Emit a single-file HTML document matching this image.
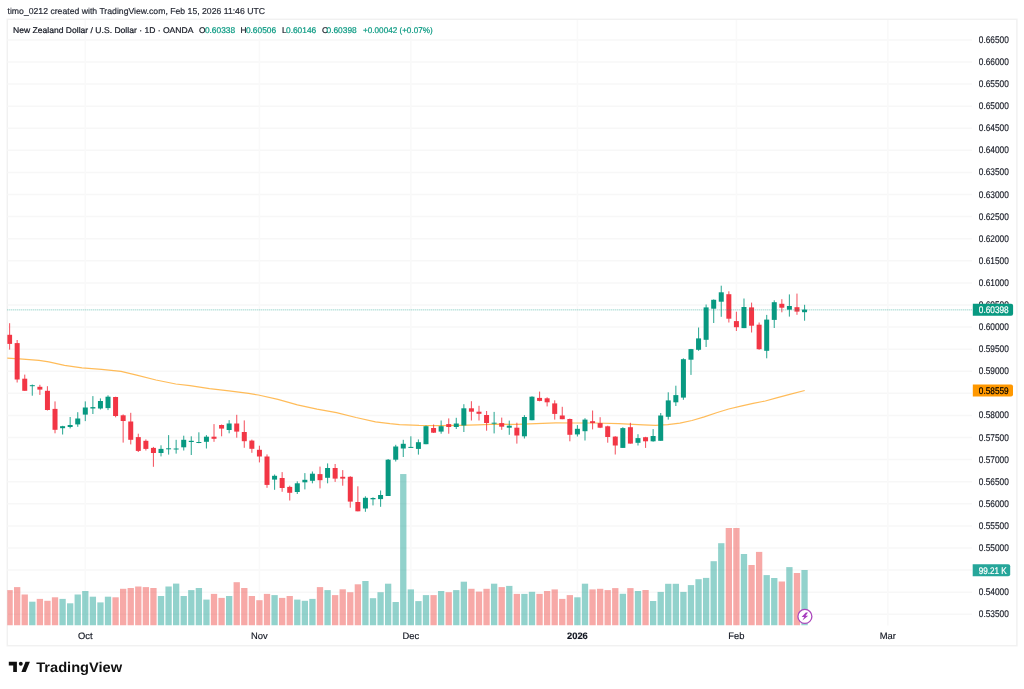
<!DOCTYPE html><html><head><meta charset="utf-8"><title>NZDUSD chart</title><style>html,body{margin:0;padding:0;background:#fff;width:1024px;height:689px;overflow:hidden}svg{display:block;position:absolute;left:0;top:0;will-change:transform;text-rendering:geometricPrecision}text{font-family:'Liberation Sans', Arial, sans-serif}</style></head><body><svg width="1024" height="689" viewBox="0 0 1024 689"><rect x="0" y="0" width="1024" height="689" fill="#fff"/><defs><clipPath id="pane"><rect x="7.3" y="20.0" width="964.7" height="605.5"/></clipPath></defs><text x="7.5" y="13.9" font-size="8.6" fill="#2a2e39" stroke="#2a2e39" stroke-width="0.2" textLength="257.5" lengthAdjust="spacingAndGlyphs">timo_0212 created with TradingView.com, Feb 15, 2026 11:46 UTC</text><rect x="7.3" y="19.3" width="1009.6" height="626.4" fill="none" stroke="#f1f1f1" stroke-width="1.5"/><g stroke="#f7f7f7" stroke-width="1.5"><line x1="7.3" y1="39.90" x2="972.0" y2="39.90"/><line x1="7.3" y1="61.99" x2="972.0" y2="61.99"/><line x1="7.3" y1="84.08" x2="972.0" y2="84.08"/><line x1="7.3" y1="106.17" x2="972.0" y2="106.17"/><line x1="7.3" y1="128.26" x2="972.0" y2="128.26"/><line x1="7.3" y1="150.35" x2="972.0" y2="150.35"/><line x1="7.3" y1="172.44" x2="972.0" y2="172.44"/><line x1="7.3" y1="194.53" x2="972.0" y2="194.53"/><line x1="7.3" y1="216.62" x2="972.0" y2="216.62"/><line x1="7.3" y1="238.71" x2="972.0" y2="238.71"/><line x1="7.3" y1="260.80" x2="972.0" y2="260.80"/><line x1="7.3" y1="282.89" x2="972.0" y2="282.89"/><line x1="7.3" y1="304.98" x2="972.0" y2="304.98"/><line x1="7.3" y1="327.07" x2="972.0" y2="327.07"/><line x1="7.3" y1="349.16" x2="972.0" y2="349.16"/><line x1="7.3" y1="371.25" x2="972.0" y2="371.25"/><line x1="7.3" y1="393.34" x2="972.0" y2="393.34"/><line x1="7.3" y1="415.43" x2="972.0" y2="415.43"/><line x1="7.3" y1="437.52" x2="972.0" y2="437.52"/><line x1="7.3" y1="459.61" x2="972.0" y2="459.61"/><line x1="7.3" y1="481.70" x2="972.0" y2="481.70"/><line x1="7.3" y1="503.79" x2="972.0" y2="503.79"/><line x1="7.3" y1="525.88" x2="972.0" y2="525.88"/><line x1="7.3" y1="547.97" x2="972.0" y2="547.97"/><line x1="7.3" y1="570.06" x2="972.0" y2="570.06"/><line x1="7.3" y1="592.15" x2="972.0" y2="592.15"/><line x1="7.3" y1="614.24" x2="972.0" y2="614.24"/><line x1="85.30" y1="20.0" x2="85.30" y2="625.5" stroke="#f9f9f9"/><line x1="259.43" y1="20.0" x2="259.43" y2="625.5" stroke="#f9f9f9"/><line x1="410.85" y1="20.0" x2="410.85" y2="625.5" stroke="#f9f9f9"/><line x1="577.41" y1="20.0" x2="577.41" y2="625.5" stroke="#f9f9f9"/><line x1="736.41" y1="20.0" x2="736.41" y2="625.5" stroke="#f9f9f9"/><line x1="887.83" y1="20.0" x2="887.83" y2="625.5" stroke="#f9f9f9"/></g><g clip-path="url(#pane)"><rect x="6.44" y="590.10" width="6.3" height="35.40" fill="rgba(239,83,80,0.5)"/><rect x="14.01" y="587.10" width="6.3" height="38.40" fill="rgba(239,83,80,0.5)"/><rect x="21.58" y="594.50" width="6.3" height="31.00" fill="rgba(239,83,80,0.5)"/><rect x="29.15" y="601.70" width="6.3" height="23.80" fill="rgba(38,166,154,0.5)"/><rect x="36.72" y="598.90" width="6.3" height="26.60" fill="rgba(239,83,80,0.5)"/><rect x="44.29" y="600.80" width="6.3" height="24.70" fill="rgba(239,83,80,0.5)"/><rect x="51.87" y="597.30" width="6.3" height="28.20" fill="rgba(239,83,80,0.5)"/><rect x="59.44" y="598.90" width="6.3" height="26.60" fill="rgba(38,166,154,0.5)"/><rect x="67.01" y="603.30" width="6.3" height="22.20" fill="rgba(38,166,154,0.5)"/><rect x="74.58" y="594.50" width="6.3" height="31.00" fill="rgba(38,166,154,0.5)"/><rect x="82.15" y="591.00" width="6.3" height="34.50" fill="rgba(38,166,154,0.5)"/><rect x="89.72" y="596.70" width="6.3" height="28.80" fill="rgba(38,166,154,0.5)"/><rect x="97.29" y="602.40" width="6.3" height="23.10" fill="rgba(38,166,154,0.5)"/><rect x="104.86" y="596.70" width="6.3" height="28.80" fill="rgba(38,166,154,0.5)"/><rect x="112.43" y="597.30" width="6.3" height="28.20" fill="rgba(239,83,80,0.5)"/><rect x="120.00" y="588.80" width="6.3" height="36.70" fill="rgba(239,83,80,0.5)"/><rect x="127.58" y="588.00" width="6.3" height="37.50" fill="rgba(239,83,80,0.5)"/><rect x="135.15" y="586.50" width="6.3" height="39.00" fill="rgba(239,83,80,0.5)"/><rect x="142.72" y="587.10" width="6.3" height="38.40" fill="rgba(239,83,80,0.5)"/><rect x="150.29" y="588.00" width="6.3" height="37.50" fill="rgba(239,83,80,0.5)"/><rect x="157.86" y="596.00" width="6.3" height="29.50" fill="rgba(38,166,154,0.5)"/><rect x="165.43" y="586.50" width="6.3" height="39.00" fill="rgba(38,166,154,0.5)"/><rect x="173.00" y="583.60" width="6.3" height="41.90" fill="rgba(38,166,154,0.5)"/><rect x="180.57" y="596.00" width="6.3" height="29.50" fill="rgba(38,166,154,0.5)"/><rect x="188.14" y="590.10" width="6.3" height="35.40" fill="rgba(38,166,154,0.5)"/><rect x="195.72" y="588.00" width="6.3" height="37.50" fill="rgba(38,166,154,0.5)"/><rect x="203.29" y="599.60" width="6.3" height="25.90" fill="rgba(38,166,154,0.5)"/><rect x="210.86" y="593.90" width="6.3" height="31.60" fill="rgba(239,83,80,0.5)"/><rect x="218.43" y="597.90" width="6.3" height="27.60" fill="rgba(239,83,80,0.5)"/><rect x="226.00" y="596.00" width="6.3" height="29.50" fill="rgba(38,166,154,0.5)"/><rect x="233.57" y="582.20" width="6.3" height="43.30" fill="rgba(239,83,80,0.5)"/><rect x="241.14" y="588.00" width="6.3" height="37.50" fill="rgba(239,83,80,0.5)"/><rect x="248.71" y="596.00" width="6.3" height="29.50" fill="rgba(239,83,80,0.5)"/><rect x="256.28" y="600.20" width="6.3" height="25.30" fill="rgba(239,83,80,0.5)"/><rect x="263.85" y="593.90" width="6.3" height="31.60" fill="rgba(239,83,80,0.5)"/><rect x="271.43" y="595.10" width="6.3" height="30.40" fill="rgba(38,166,154,0.5)"/><rect x="279.00" y="597.90" width="6.3" height="27.60" fill="rgba(239,83,80,0.5)"/><rect x="286.57" y="596.00" width="6.3" height="29.50" fill="rgba(239,83,80,0.5)"/><rect x="294.14" y="599.60" width="6.3" height="25.90" fill="rgba(38,166,154,0.5)"/><rect x="301.71" y="600.80" width="6.3" height="24.70" fill="rgba(38,166,154,0.5)"/><rect x="309.28" y="598.90" width="6.3" height="26.60" fill="rgba(38,166,154,0.5)"/><rect x="316.85" y="587.10" width="6.3" height="38.40" fill="rgba(239,83,80,0.5)"/><rect x="324.42" y="590.10" width="6.3" height="35.40" fill="rgba(38,166,154,0.5)"/><rect x="331.99" y="595.10" width="6.3" height="30.40" fill="rgba(239,83,80,0.5)"/><rect x="339.56" y="589.30" width="6.3" height="36.20" fill="rgba(239,83,80,0.5)"/><rect x="347.13" y="592.20" width="6.3" height="33.30" fill="rgba(239,83,80,0.5)"/><rect x="354.71" y="584.30" width="6.3" height="41.20" fill="rgba(239,83,80,0.5)"/><rect x="362.28" y="581.00" width="6.3" height="44.50" fill="rgba(38,166,154,0.5)"/><rect x="369.85" y="598.20" width="6.3" height="27.30" fill="rgba(38,166,154,0.5)"/><rect x="377.42" y="592.20" width="6.3" height="33.30" fill="rgba(38,166,154,0.5)"/><rect x="384.99" y="583.70" width="6.3" height="41.80" fill="rgba(38,166,154,0.5)"/><rect x="392.56" y="602.00" width="6.3" height="23.50" fill="rgba(38,166,154,0.5)"/><rect x="400.13" y="474.05" width="6.3" height="151.45" fill="rgba(38,166,154,0.5)"/><rect x="407.70" y="589.40" width="6.3" height="36.10" fill="rgba(38,166,154,0.5)"/><rect x="415.27" y="601.10" width="6.3" height="24.40" fill="rgba(38,166,154,0.5)"/><rect x="422.84" y="595.10" width="6.3" height="30.40" fill="rgba(38,166,154,0.5)"/><rect x="430.42" y="595.10" width="6.3" height="30.40" fill="rgba(239,83,80,0.5)"/><rect x="437.99" y="591.00" width="6.3" height="34.50" fill="rgba(38,166,154,0.5)"/><rect x="445.56" y="592.20" width="6.3" height="33.30" fill="rgba(239,83,80,0.5)"/><rect x="453.13" y="590.10" width="6.3" height="35.40" fill="rgba(38,166,154,0.5)"/><rect x="460.70" y="581.70" width="6.3" height="43.80" fill="rgba(38,166,154,0.5)"/><rect x="468.27" y="588.80" width="6.3" height="36.70" fill="rgba(239,83,80,0.5)"/><rect x="475.84" y="591.60" width="6.3" height="33.90" fill="rgba(239,83,80,0.5)"/><rect x="483.41" y="588.80" width="6.3" height="36.70" fill="rgba(239,83,80,0.5)"/><rect x="490.98" y="583.70" width="6.3" height="41.80" fill="rgba(38,166,154,0.5)"/><rect x="498.56" y="587.10" width="6.3" height="38.40" fill="rgba(239,83,80,0.5)"/><rect x="506.13" y="585.90" width="6.3" height="39.60" fill="rgba(38,166,154,0.5)"/><rect x="513.70" y="593.90" width="6.3" height="31.60" fill="rgba(239,83,80,0.5)"/><rect x="521.27" y="593.90" width="6.3" height="31.60" fill="rgba(38,166,154,0.5)"/><rect x="528.84" y="591.80" width="6.3" height="33.70" fill="rgba(38,166,154,0.5)"/><rect x="536.41" y="593.90" width="6.3" height="31.60" fill="rgba(239,83,80,0.5)"/><rect x="543.98" y="591.00" width="6.3" height="34.50" fill="rgba(239,83,80,0.5)"/><rect x="551.55" y="589.40" width="6.3" height="36.10" fill="rgba(239,83,80,0.5)"/><rect x="559.12" y="598.90" width="6.3" height="26.60" fill="rgba(239,83,80,0.5)"/><rect x="566.69" y="595.10" width="6.3" height="30.40" fill="rgba(239,83,80,0.5)"/><rect x="574.26" y="597.30" width="6.3" height="28.20" fill="rgba(38,166,154,0.5)"/><rect x="581.84" y="583.70" width="6.3" height="41.80" fill="rgba(38,166,154,0.5)"/><rect x="589.41" y="589.40" width="6.3" height="36.10" fill="rgba(239,83,80,0.5)"/><rect x="596.98" y="588.80" width="6.3" height="36.70" fill="rgba(239,83,80,0.5)"/><rect x="604.55" y="590.10" width="6.3" height="35.40" fill="rgba(239,83,80,0.5)"/><rect x="612.12" y="588.10" width="6.3" height="37.40" fill="rgba(239,83,80,0.5)"/><rect x="619.69" y="593.80" width="6.3" height="31.70" fill="rgba(38,166,154,0.5)"/><rect x="627.26" y="588.10" width="6.3" height="37.40" fill="rgba(239,83,80,0.5)"/><rect x="634.83" y="591.00" width="6.3" height="34.50" fill="rgba(38,166,154,0.5)"/><rect x="642.40" y="590.00" width="6.3" height="35.50" fill="rgba(239,83,80,0.5)"/><rect x="649.98" y="601.00" width="6.3" height="24.50" fill="rgba(38,166,154,0.5)"/><rect x="657.55" y="591.90" width="6.3" height="33.60" fill="rgba(38,166,154,0.5)"/><rect x="665.12" y="583.80" width="6.3" height="41.70" fill="rgba(38,166,154,0.5)"/><rect x="672.69" y="583.80" width="6.3" height="41.70" fill="rgba(38,166,154,0.5)"/><rect x="680.26" y="591.90" width="6.3" height="33.60" fill="rgba(38,166,154,0.5)"/><rect x="687.83" y="585.10" width="6.3" height="40.40" fill="rgba(38,166,154,0.5)"/><rect x="695.40" y="579.20" width="6.3" height="46.30" fill="rgba(38,166,154,0.5)"/><rect x="702.97" y="577.90" width="6.3" height="47.60" fill="rgba(38,166,154,0.5)"/><rect x="710.54" y="561.20" width="6.3" height="64.30" fill="rgba(38,166,154,0.5)"/><rect x="718.11" y="543.20" width="6.3" height="82.30" fill="rgba(38,166,154,0.5)"/><rect x="725.69" y="528.00" width="6.3" height="97.50" fill="rgba(239,83,80,0.5)"/><rect x="733.26" y="528.00" width="6.3" height="97.50" fill="rgba(239,83,80,0.5)"/><rect x="740.83" y="554.00" width="6.3" height="71.50" fill="rgba(38,166,154,0.5)"/><rect x="748.40" y="565.00" width="6.3" height="60.50" fill="rgba(239,83,80,0.5)"/><rect x="755.97" y="551.90" width="6.3" height="73.60" fill="rgba(239,83,80,0.5)"/><rect x="763.54" y="575.10" width="6.3" height="50.40" fill="rgba(38,166,154,0.5)"/><rect x="771.11" y="578.00" width="6.3" height="47.50" fill="rgba(38,166,154,0.5)"/><rect x="778.68" y="581.50" width="6.3" height="44.00" fill="rgba(239,83,80,0.5)"/><rect x="786.25" y="567.10" width="6.3" height="58.40" fill="rgba(38,166,154,0.5)"/><rect x="793.82" y="573.00" width="6.3" height="52.50" fill="rgba(239,83,80,0.5)"/><rect x="801.39" y="570.00" width="6.3" height="55.50" fill="rgba(38,166,154,0.5)"/></g><polyline points="7.0,358.1 19.5,358.9 39.0,360.3 48.8,361.9 64.5,365.4 82.0,367.9 101.6,369.3 121.0,371.3 136.7,375.2 156.0,380.0 175.8,384.0 190.0,385.6 209.5,388.6 229.0,390.9 248.6,393.4 258.4,395.0 277.9,399.3 297.4,404.8 317.0,409.1 336.5,412.6 356.0,417.5 375.5,421.8 390.0,423.7 399.5,424.6 419.0,425.4 438.6,425.6 458.0,425.4 477.7,424.8 497.0,424.2 516.7,424.4 536.0,423.6 555.8,422.9 575.3,423.0 594.4,423.0 618.8,423.7 643.2,424.9 655.4,425.4 667.7,424.7 679.9,423.2 692.0,420.5 704.3,416.9 716.5,412.7 728.7,409.0 740.9,406.1 753.1,403.4 765.3,401.0 777.5,397.6 789.7,394.4 804.7,390.5" fill="none" stroke="#FF9800" stroke-width="1.2" stroke-opacity="0.65" clip-path="url(#pane)"/><g clip-path="url(#pane)"><rect x="9.04" y="323.20" width="1.1" height="26.40" fill="#F23645" fill-opacity="0.8"/><rect x="7.09" y="334.80" width="5" height="9.10" fill="#F23645"/><rect x="16.61" y="340.00" width="1.1" height="42.50" fill="#F23645" fill-opacity="0.8"/><rect x="14.66" y="343.10" width="5" height="36.40" fill="#F23645"/><rect x="24.18" y="374.60" width="1.1" height="16.20" fill="#F23645" fill-opacity="0.8"/><rect x="22.23" y="378.70" width="5" height="12.10" fill="#F23645"/><rect x="31.75" y="384.50" width="1.1" height="11.20" fill="#089981" fill-opacity="0.8"/><rect x="29.80" y="385.20" width="5" height="1.00" fill="#089981"/><rect x="39.32" y="384.80" width="1.1" height="10.10" fill="#F23645" fill-opacity="0.8"/><rect x="37.37" y="386.80" width="5" height="2.80" fill="#F23645"/><rect x="46.89" y="386.20" width="1.1" height="24.30" fill="#F23645" fill-opacity="0.8"/><rect x="44.94" y="390.80" width="5" height="19.20" fill="#F23645"/><rect x="54.47" y="401.40" width="1.1" height="31.90" fill="#F23645" fill-opacity="0.8"/><rect x="52.52" y="408.90" width="5" height="20.90" fill="#F23645"/><rect x="62.04" y="425.80" width="1.1" height="8.70" fill="#089981" fill-opacity="0.8"/><rect x="60.09" y="426.20" width="5" height="2.00" fill="#089981"/><rect x="69.61" y="417.00" width="1.1" height="11.40" fill="#089981" fill-opacity="0.8"/><rect x="67.66" y="425.00" width="5" height="2.00" fill="#089981"/><rect x="77.18" y="412.20" width="1.1" height="14.60" fill="#089981" fill-opacity="0.8"/><rect x="75.23" y="418.50" width="5" height="5.90" fill="#089981"/><rect x="84.75" y="401.40" width="1.1" height="19.70" fill="#089981" fill-opacity="0.8"/><rect x="82.80" y="407.50" width="5" height="7.10" fill="#089981"/><rect x="92.32" y="396.10" width="1.1" height="17.90" fill="#089981" fill-opacity="0.8"/><rect x="90.37" y="407.10" width="5" height="1.40" fill="#089981"/><rect x="99.89" y="398.40" width="1.1" height="11.10" fill="#089981" fill-opacity="0.8"/><rect x="97.94" y="401.00" width="5" height="7.50" fill="#089981"/><rect x="107.46" y="395.30" width="1.1" height="14.80" fill="#089981" fill-opacity="0.8"/><rect x="105.51" y="396.70" width="5" height="11.40" fill="#089981"/><rect x="115.03" y="396.70" width="1.1" height="20.60" fill="#F23645" fill-opacity="0.8"/><rect x="113.08" y="397.00" width="5" height="19.00" fill="#F23645"/><rect x="122.61" y="414.40" width="1.1" height="28.20" fill="#F23645" fill-opacity="0.8"/><rect x="120.66" y="415.30" width="5" height="5.70" fill="#F23645"/><rect x="130.18" y="412.80" width="1.1" height="31.60" fill="#F23645" fill-opacity="0.8"/><rect x="128.23" y="421.50" width="5" height="18.30" fill="#F23645"/><rect x="137.75" y="433.70" width="1.1" height="18.30" fill="#F23645" fill-opacity="0.8"/><rect x="135.80" y="437.10" width="5" height="13.80" fill="#F23645"/><rect x="145.32" y="439.40" width="1.1" height="11.10" fill="#F23645" fill-opacity="0.8"/><rect x="143.37" y="440.80" width="5" height="8.10" fill="#F23645"/><rect x="152.89" y="446.90" width="1.1" height="19.90" fill="#F23645" fill-opacity="0.8"/><rect x="150.94" y="447.90" width="5" height="5.10" fill="#F23645"/><rect x="160.46" y="445.30" width="1.1" height="11.10" fill="#089981" fill-opacity="0.8"/><rect x="158.51" y="448.90" width="5" height="4.10" fill="#089981"/><rect x="168.03" y="435.10" width="1.1" height="19.50" fill="#089981" fill-opacity="0.8"/><rect x="166.08" y="448.30" width="5" height="1.00" fill="#089981"/><rect x="175.60" y="439.80" width="1.1" height="13.80" fill="#089981" fill-opacity="0.8"/><rect x="173.65" y="448.50" width="5" height="1.00" fill="#089981"/><rect x="183.17" y="435.70" width="1.1" height="14.80" fill="#089981" fill-opacity="0.8"/><rect x="181.22" y="439.80" width="5" height="7.50" fill="#089981"/><rect x="190.74" y="436.30" width="1.1" height="18.70" fill="#089981" fill-opacity="0.8"/><rect x="188.79" y="440.80" width="5" height="1.20" fill="#089981"/><rect x="198.31" y="432.30" width="1.1" height="10.90" fill="#089981" fill-opacity="0.8"/><rect x="196.37" y="442.00" width="5" height="1.00" fill="#089981"/><rect x="205.89" y="435.10" width="1.1" height="13.40" fill="#089981" fill-opacity="0.8"/><rect x="203.94" y="436.70" width="5" height="5.10" fill="#089981"/><rect x="213.46" y="424.10" width="1.1" height="17.70" fill="#F23645" fill-opacity="0.8"/><rect x="211.51" y="436.70" width="5" height="2.10" fill="#F23645"/><rect x="221.03" y="424.50" width="1.1" height="11.80" fill="#F23645" fill-opacity="0.8"/><rect x="219.08" y="425.00" width="5" height="3.60" fill="#F23645"/><rect x="228.60" y="420.10" width="1.1" height="13.20" fill="#089981" fill-opacity="0.8"/><rect x="226.65" y="423.50" width="5" height="6.50" fill="#089981"/><rect x="236.17" y="414.80" width="1.1" height="22.90" fill="#F23645" fill-opacity="0.8"/><rect x="234.22" y="423.50" width="5" height="8.10" fill="#F23645"/><rect x="243.74" y="420.40" width="1.1" height="27.40" fill="#F23645" fill-opacity="0.8"/><rect x="241.79" y="432.00" width="5" height="9.20" fill="#F23645"/><rect x="251.31" y="439.60" width="1.1" height="13.20" fill="#F23645" fill-opacity="0.8"/><rect x="249.36" y="440.60" width="5" height="8.20" fill="#F23645"/><rect x="258.88" y="445.70" width="1.1" height="16.70" fill="#F23645" fill-opacity="0.8"/><rect x="256.93" y="449.80" width="5" height="6.70" fill="#F23645"/><rect x="266.45" y="454.40" width="1.1" height="33.40" fill="#F23645" fill-opacity="0.8"/><rect x="264.50" y="456.50" width="5" height="28.40" fill="#F23645"/><rect x="274.02" y="474.50" width="1.1" height="15.30" fill="#089981" fill-opacity="0.8"/><rect x="272.07" y="475.80" width="5" height="3.80" fill="#089981"/><rect x="281.60" y="472.10" width="1.1" height="19.70" fill="#F23645" fill-opacity="0.8"/><rect x="279.65" y="478.00" width="5" height="10.00" fill="#F23645"/><rect x="289.17" y="485.70" width="1.1" height="14.80" fill="#F23645" fill-opacity="0.8"/><rect x="287.22" y="486.90" width="5" height="5.90" fill="#F23645"/><rect x="296.74" y="481.30" width="1.1" height="12.70" fill="#089981" fill-opacity="0.8"/><rect x="294.79" y="483.30" width="5" height="8.70" fill="#089981"/><rect x="304.31" y="473.10" width="1.1" height="16.30" fill="#089981" fill-opacity="0.8"/><rect x="302.36" y="479.80" width="5" height="2.50" fill="#089981"/><rect x="311.88" y="471.50" width="1.1" height="11.80" fill="#089981" fill-opacity="0.8"/><rect x="309.93" y="473.70" width="5" height="7.10" fill="#089981"/><rect x="319.45" y="466.60" width="1.1" height="21.80" fill="#F23645" fill-opacity="0.8"/><rect x="317.50" y="474.10" width="5" height="6.10" fill="#F23645"/><rect x="327.02" y="463.40" width="1.1" height="19.90" fill="#089981" fill-opacity="0.8"/><rect x="325.07" y="468.00" width="5" height="9.80" fill="#089981"/><rect x="334.59" y="464.00" width="1.1" height="17.90" fill="#F23645" fill-opacity="0.8"/><rect x="332.64" y="468.00" width="5" height="10.60" fill="#F23645"/><rect x="342.16" y="470.10" width="1.1" height="15.60" fill="#F23645" fill-opacity="0.8"/><rect x="340.21" y="476.80" width="5" height="1.80" fill="#F23645"/><rect x="349.73" y="476.20" width="1.1" height="31.50" fill="#F23645" fill-opacity="0.8"/><rect x="347.78" y="476.80" width="5" height="24.80" fill="#F23645"/><rect x="357.31" y="486.30" width="1.1" height="25.00" fill="#F23645" fill-opacity="0.8"/><rect x="355.36" y="502.00" width="5" height="9.30" fill="#F23645"/><rect x="364.88" y="496.30" width="1.1" height="15.50" fill="#089981" fill-opacity="0.8"/><rect x="362.93" y="497.80" width="5" height="10.70" fill="#089981"/><rect x="372.45" y="497.30" width="1.1" height="8.10" fill="#089981" fill-opacity="0.8"/><rect x="370.50" y="498.00" width="5" height="1.30" fill="#089981"/><rect x="380.02" y="490.50" width="1.1" height="16.30" fill="#089981" fill-opacity="0.8"/><rect x="378.07" y="495.00" width="5" height="4.10" fill="#089981"/><rect x="387.59" y="459.00" width="1.1" height="37.00" fill="#089981" fill-opacity="0.8"/><rect x="385.64" y="459.70" width="5" height="36.30" fill="#089981"/><rect x="395.16" y="444.80" width="1.1" height="16.70" fill="#089981" fill-opacity="0.8"/><rect x="393.21" y="446.50" width="5" height="13.20" fill="#089981"/><rect x="402.73" y="439.80" width="1.1" height="17.20" fill="#089981" fill-opacity="0.8"/><rect x="400.78" y="443.80" width="5" height="4.70" fill="#089981"/><rect x="410.30" y="436.30" width="1.1" height="11.60" fill="#089981" fill-opacity="0.8"/><rect x="408.35" y="446.90" width="5" height="1.00" fill="#089981"/><rect x="417.87" y="439.40" width="1.1" height="15.20" fill="#089981" fill-opacity="0.8"/><rect x="415.92" y="442.20" width="5" height="6.70" fill="#089981"/><rect x="425.44" y="425.50" width="1.1" height="18.70" fill="#089981" fill-opacity="0.8"/><rect x="423.49" y="426.20" width="5" height="18.00" fill="#089981"/><rect x="433.02" y="424.50" width="1.1" height="8.50" fill="#F23645" fill-opacity="0.8"/><rect x="431.07" y="428.00" width="5" height="4.70" fill="#F23645"/><rect x="440.59" y="420.50" width="1.1" height="13.20" fill="#089981" fill-opacity="0.8"/><rect x="438.64" y="426.20" width="5" height="5.40" fill="#089981"/><rect x="448.16" y="418.40" width="1.1" height="15.30" fill="#F23645" fill-opacity="0.8"/><rect x="446.21" y="424.10" width="5" height="2.90" fill="#F23645"/><rect x="455.73" y="417.80" width="1.1" height="11.20" fill="#089981" fill-opacity="0.8"/><rect x="453.78" y="423.50" width="5" height="3.50" fill="#089981"/><rect x="463.30" y="404.20" width="1.1" height="27.80" fill="#089981" fill-opacity="0.8"/><rect x="461.35" y="408.30" width="5" height="17.20" fill="#089981"/><rect x="470.87" y="401.20" width="1.1" height="19.30" fill="#F23645" fill-opacity="0.8"/><rect x="468.92" y="408.30" width="5" height="3.40" fill="#F23645"/><rect x="478.44" y="405.80" width="1.1" height="14.70" fill="#F23645" fill-opacity="0.8"/><rect x="476.49" y="411.70" width="5" height="2.10" fill="#F23645"/><rect x="486.01" y="411.00" width="1.1" height="19.70" fill="#F23645" fill-opacity="0.8"/><rect x="484.06" y="415.00" width="5" height="8.00" fill="#F23645"/><rect x="493.58" y="411.90" width="1.1" height="21.50" fill="#089981" fill-opacity="0.8"/><rect x="491.63" y="422.70" width="5" height="1.00" fill="#089981"/><rect x="501.15" y="417.60" width="1.1" height="12.20" fill="#F23645" fill-opacity="0.8"/><rect x="499.20" y="423.10" width="5" height="3.60" fill="#F23645"/><rect x="508.73" y="420.60" width="1.1" height="14.20" fill="#089981" fill-opacity="0.8"/><rect x="506.78" y="425.70" width="5" height="2.00" fill="#089981"/><rect x="516.30" y="422.70" width="1.1" height="20.90" fill="#F23645" fill-opacity="0.8"/><rect x="514.35" y="427.70" width="5" height="7.80" fill="#F23645"/><rect x="523.87" y="415.10" width="1.1" height="23.40" fill="#089981" fill-opacity="0.8"/><rect x="521.92" y="417.00" width="5" height="19.30" fill="#089981"/><rect x="531.44" y="396.30" width="1.1" height="23.90" fill="#089981" fill-opacity="0.8"/><rect x="529.49" y="396.70" width="5" height="23.50" fill="#089981"/><rect x="539.01" y="391.60" width="1.1" height="9.70" fill="#F23645" fill-opacity="0.8"/><rect x="537.06" y="397.90" width="5" height="3.00" fill="#F23645"/><rect x="546.58" y="397.30" width="1.1" height="9.10" fill="#F23645" fill-opacity="0.8"/><rect x="544.63" y="398.30" width="5" height="4.00" fill="#F23645"/><rect x="554.15" y="400.30" width="1.1" height="19.30" fill="#F23645" fill-opacity="0.8"/><rect x="552.20" y="403.40" width="5" height="10.50" fill="#F23645"/><rect x="561.72" y="406.80" width="1.1" height="12.40" fill="#F23645" fill-opacity="0.8"/><rect x="559.77" y="415.50" width="5" height="3.70" fill="#F23645"/><rect x="569.29" y="418.60" width="1.1" height="22.70" fill="#F23645" fill-opacity="0.8"/><rect x="567.34" y="419.00" width="5" height="15.80" fill="#F23645"/><rect x="576.87" y="425.10" width="1.1" height="11.40" fill="#089981" fill-opacity="0.8"/><rect x="574.91" y="428.80" width="5" height="5.60" fill="#089981"/><rect x="584.44" y="418.20" width="1.1" height="22.30" fill="#089981" fill-opacity="0.8"/><rect x="582.49" y="419.60" width="5" height="11.60" fill="#089981"/><rect x="592.01" y="410.50" width="1.1" height="18.90" fill="#F23645" fill-opacity="0.8"/><rect x="590.06" y="421.20" width="5" height="1.90" fill="#F23645"/><rect x="599.58" y="417.20" width="1.1" height="10.90" fill="#F23645" fill-opacity="0.8"/><rect x="597.63" y="423.10" width="5" height="4.60" fill="#F23645"/><rect x="607.15" y="425.70" width="1.1" height="17.00" fill="#F23645" fill-opacity="0.8"/><rect x="605.20" y="426.30" width="5" height="10.70" fill="#F23645"/><rect x="614.72" y="436.20" width="1.1" height="18.30" fill="#F23645" fill-opacity="0.8"/><rect x="612.77" y="436.60" width="5" height="8.90" fill="#F23645"/><rect x="622.29" y="427.20" width="1.1" height="20.70" fill="#089981" fill-opacity="0.8"/><rect x="620.34" y="428.10" width="5" height="19.80" fill="#089981"/><rect x="629.86" y="422.80" width="1.1" height="20.80" fill="#F23645" fill-opacity="0.8"/><rect x="627.91" y="427.20" width="5" height="16.40" fill="#F23645"/><rect x="637.43" y="434.20" width="1.1" height="11.30" fill="#089981" fill-opacity="0.8"/><rect x="635.48" y="438.10" width="5" height="4.70" fill="#089981"/><rect x="645.00" y="436.80" width="1.1" height="11.10" fill="#F23645" fill-opacity="0.8"/><rect x="643.05" y="437.20" width="5" height="4.10" fill="#F23645"/><rect x="652.58" y="429.10" width="1.1" height="12.60" fill="#089981" fill-opacity="0.8"/><rect x="650.62" y="436.00" width="5" height="5.30" fill="#089981"/><rect x="660.15" y="413.00" width="1.1" height="27.80" fill="#089981" fill-opacity="0.8"/><rect x="658.20" y="415.50" width="5" height="25.30" fill="#089981"/><rect x="667.72" y="392.30" width="1.1" height="27.30" fill="#089981" fill-opacity="0.8"/><rect x="665.77" y="400.40" width="5" height="16.40" fill="#089981"/><rect x="675.29" y="385.70" width="1.1" height="20.30" fill="#089981" fill-opacity="0.8"/><rect x="673.34" y="395.10" width="5" height="7.20" fill="#089981"/><rect x="682.86" y="358.30" width="1.1" height="41.50" fill="#089981" fill-opacity="0.8"/><rect x="680.91" y="359.20" width="5" height="38.40" fill="#089981"/><rect x="690.43" y="348.90" width="1.1" height="26.00" fill="#089981" fill-opacity="0.8"/><rect x="688.48" y="349.10" width="5" height="10.60" fill="#089981"/><rect x="698.00" y="327.50" width="1.1" height="23.30" fill="#089981" fill-opacity="0.8"/><rect x="696.05" y="338.40" width="5" height="11.40" fill="#089981"/><rect x="705.57" y="304.50" width="1.1" height="42.50" fill="#089981" fill-opacity="0.8"/><rect x="703.62" y="307.40" width="5" height="32.40" fill="#089981"/><rect x="713.14" y="299.40" width="1.1" height="23.60" fill="#089981" fill-opacity="0.8"/><rect x="711.19" y="299.80" width="5" height="8.90" fill="#089981"/><rect x="720.71" y="285.70" width="1.1" height="31.10" fill="#089981" fill-opacity="0.8"/><rect x="718.76" y="292.30" width="5" height="9.40" fill="#089981"/><rect x="728.29" y="291.30" width="1.1" height="31.20" fill="#F23645" fill-opacity="0.8"/><rect x="726.34" y="294.20" width="5" height="24.50" fill="#F23645"/><rect x="735.86" y="311.70" width="1.1" height="19.30" fill="#F23645" fill-opacity="0.8"/><rect x="733.91" y="321.10" width="5" height="6.10" fill="#F23645"/><rect x="743.43" y="298.50" width="1.1" height="29.60" fill="#089981" fill-opacity="0.8"/><rect x="741.48" y="307.00" width="5" height="21.10" fill="#089981"/><rect x="751.00" y="302.60" width="1.1" height="29.90" fill="#F23645" fill-opacity="0.8"/><rect x="749.05" y="307.40" width="5" height="18.30" fill="#F23645"/><rect x="758.57" y="322.50" width="1.1" height="27.30" fill="#F23645" fill-opacity="0.8"/><rect x="756.62" y="324.70" width="5" height="24.50" fill="#F23645"/><rect x="766.14" y="314.90" width="1.1" height="43.40" fill="#089981" fill-opacity="0.8"/><rect x="764.19" y="319.60" width="5" height="31.20" fill="#089981"/><rect x="773.71" y="300.30" width="1.1" height="27.70" fill="#089981" fill-opacity="0.8"/><rect x="771.76" y="302.20" width="5" height="17.70" fill="#089981"/><rect x="781.28" y="299.20" width="1.1" height="13.10" fill="#F23645" fill-opacity="0.8"/><rect x="779.33" y="303.80" width="5" height="3.90" fill="#F23645"/><rect x="788.85" y="294.40" width="1.1" height="22.20" fill="#089981" fill-opacity="0.8"/><rect x="786.90" y="306.00" width="5" height="3.70" fill="#089981"/><rect x="796.42" y="293.60" width="1.1" height="21.20" fill="#F23645" fill-opacity="0.8"/><rect x="794.47" y="307.20" width="5" height="4.40" fill="#F23645"/><rect x="804.00" y="304.80" width="1.1" height="15.90" fill="#089981" fill-opacity="0.8"/><rect x="802.04" y="309.60" width="5" height="2.60" fill="#089981"/></g><line x1="7.3" y1="309.89" x2="972.0" y2="309.89" stroke="#089981" stroke-width="1" stroke-dasharray="1 1" stroke-opacity="0.55"/><text x="13" y="33" font-size="8.3" fill="#131722" stroke="#131722" stroke-width="0.2" textLength="180.4" lengthAdjust="spacingAndGlyphs">New Zealand Dollar / U.S. Dollar · 1D · OANDA</text><text x="199.0" y="33" font-size="8.3" fill="#131722" stroke="#131722" stroke-width="0.2">O</text><text x="204.9" y="33" font-size="8.3" fill="#089981" stroke="#089981" stroke-width="0.2" textLength="30.2" lengthAdjust="spacingAndGlyphs">0.60338</text><text x="240.6" y="33" font-size="8.3" fill="#131722" stroke="#131722" stroke-width="0.2">H</text><text x="245.9" y="33" font-size="8.3" fill="#089981" stroke="#089981" stroke-width="0.2" textLength="30.2" lengthAdjust="spacingAndGlyphs">0.60506</text><text x="282.0" y="33" font-size="8.3" fill="#131722" stroke="#131722" stroke-width="0.2">L</text><text x="286.0" y="33" font-size="8.3" fill="#089981" stroke="#089981" stroke-width="0.2" textLength="30.2" lengthAdjust="spacingAndGlyphs">0.60146</text><text x="322.1" y="33" font-size="8.3" fill="#131722" stroke="#131722" stroke-width="0.2">C</text><text x="326.5" y="33" font-size="8.3" fill="#089981" stroke="#089981" stroke-width="0.2" textLength="30.2" lengthAdjust="spacingAndGlyphs">0.60398</text><text x="363.1" y="33" font-size="8.3" fill="#089981" stroke="#089981" stroke-width="0.2" textLength="69.5" lengthAdjust="spacingAndGlyphs">+0.00042 (+0.07%)</text><g font-size="9.7" fill="#131722" stroke="#131722" stroke-width="0.15"><text x="1008.8" y="42.90" text-anchor="end" textLength="30" lengthAdjust="spacingAndGlyphs">0.66500</text><text x="1008.8" y="64.99" text-anchor="end" textLength="30" lengthAdjust="spacingAndGlyphs">0.66000</text><text x="1008.8" y="87.08" text-anchor="end" textLength="30" lengthAdjust="spacingAndGlyphs">0.65500</text><text x="1008.8" y="109.17" text-anchor="end" textLength="30" lengthAdjust="spacingAndGlyphs">0.65000</text><text x="1008.8" y="131.26" text-anchor="end" textLength="30" lengthAdjust="spacingAndGlyphs">0.64500</text><text x="1008.8" y="153.35" text-anchor="end" textLength="30" lengthAdjust="spacingAndGlyphs">0.64000</text><text x="1008.8" y="175.44" text-anchor="end" textLength="30" lengthAdjust="spacingAndGlyphs">0.63500</text><text x="1008.8" y="197.53" text-anchor="end" textLength="30" lengthAdjust="spacingAndGlyphs">0.63000</text><text x="1008.8" y="219.62" text-anchor="end" textLength="30" lengthAdjust="spacingAndGlyphs">0.62500</text><text x="1008.8" y="241.71" text-anchor="end" textLength="30" lengthAdjust="spacingAndGlyphs">0.62000</text><text x="1008.8" y="263.80" text-anchor="end" textLength="30" lengthAdjust="spacingAndGlyphs">0.61500</text><text x="1008.8" y="285.89" text-anchor="end" textLength="30" lengthAdjust="spacingAndGlyphs">0.61000</text><text x="1008.8" y="307.98" text-anchor="end" textLength="30" lengthAdjust="spacingAndGlyphs">0.60500</text><text x="1008.8" y="330.07" text-anchor="end" textLength="30" lengthAdjust="spacingAndGlyphs">0.60000</text><text x="1008.8" y="352.16" text-anchor="end" textLength="30" lengthAdjust="spacingAndGlyphs">0.59500</text><text x="1008.8" y="374.25" text-anchor="end" textLength="30" lengthAdjust="spacingAndGlyphs">0.59000</text><text x="1008.8" y="418.43" text-anchor="end" textLength="30" lengthAdjust="spacingAndGlyphs">0.58000</text><text x="1008.8" y="440.52" text-anchor="end" textLength="30" lengthAdjust="spacingAndGlyphs">0.57500</text><text x="1008.8" y="462.61" text-anchor="end" textLength="30" lengthAdjust="spacingAndGlyphs">0.57000</text><text x="1008.8" y="484.70" text-anchor="end" textLength="30" lengthAdjust="spacingAndGlyphs">0.56500</text><text x="1008.8" y="506.79" text-anchor="end" textLength="30" lengthAdjust="spacingAndGlyphs">0.56000</text><text x="1008.8" y="528.88" text-anchor="end" textLength="30" lengthAdjust="spacingAndGlyphs">0.55500</text><text x="1008.8" y="550.97" text-anchor="end" textLength="30" lengthAdjust="spacingAndGlyphs">0.55000</text><text x="1008.8" y="595.15" text-anchor="end" textLength="30" lengthAdjust="spacingAndGlyphs">0.54000</text><text x="1008.8" y="617.24" text-anchor="end" textLength="30" lengthAdjust="spacingAndGlyphs">0.53500</text></g><g font-size="9.4" fill="#131722" stroke="#131722" stroke-width="0.15"><text x="85.30" y="638.7" text-anchor="middle">Oct</text><text x="259.43" y="638.7" text-anchor="middle">Nov</text><text x="410.85" y="638.7" text-anchor="middle">Dec</text><text x="577.41" y="638.7" text-anchor="middle" font-weight="bold">2026</text><text x="736.41" y="638.7" text-anchor="middle">Feb</text><text x="887.83" y="638.7" text-anchor="middle">Mar</text></g><path d="M972.80 303.70 H1011.10 Q1013.10 303.70 1013.10 305.70 V313.80 Q1013.10 315.80 1011.10 315.80 H972.80 Z" fill="#089981"/><text x="1008.7" y="313.05" font-size="9.7" fill="#fff" stroke="#fff" stroke-width="0.2" text-anchor="end" textLength="29.9" lengthAdjust="spacingAndGlyphs">0.60398</text><path d="M972.80 384.50 H1011.00 Q1013.00 384.50 1013.00 386.50 V394.60 Q1013.00 396.60 1011.00 396.60 H972.80 Z" fill="#FF9800"/><text x="1008.7" y="393.85" font-size="9.7" fill="#000" stroke="#000" stroke-width="0.2" text-anchor="end" textLength="29.9" lengthAdjust="spacingAndGlyphs">0.58559</text><path d="M972.7 564.2 H1008.2 Q1010.2 564.2 1010.2 566.2 V574.3 Q1010.2 576.3 1008.2 576.3 H972.7 Z" fill="#26a69a"/><text x="1006.8" y="573.55" font-size="9.7" fill="#fff" stroke="#fff" stroke-width="0.2" text-anchor="end" textLength="28" lengthAdjust="spacingAndGlyphs">99.21 K</text><circle cx="804.9" cy="616.4" r="7.0" fill="#fff" stroke="#AB47BC" stroke-width="1.3"/><path d="M805.8 612.4 L808.0 612.4 L805.6 615.7 L808.2 615.7 L802.4 620.6 L804.3 617.1 L801.6 617.1 Z" fill="#A73DBF"/><g fill="#111"><path d="M8.8 661.7 H16.9 V672.1 H13.2 V665.5 H8.8 Z"/><circle cx="20.8" cy="663.8" r="1.95"/><path d="M25.5 661.7 H29.9 L25.7 672.1 H21.4 Z"/></g><text x="36.2" y="671.8" font-size="14" font-weight="bold" fill="#111" textLength="85.9" lengthAdjust="spacingAndGlyphs">TradingView</text></svg></body></html>
